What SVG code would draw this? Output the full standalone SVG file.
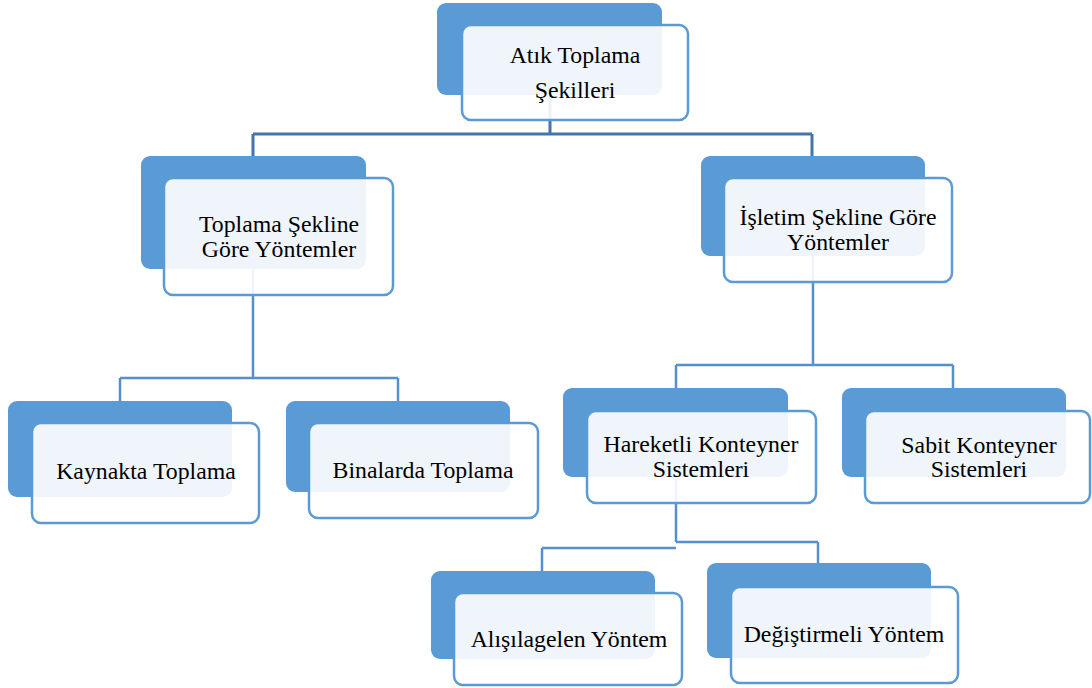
<svg xmlns="http://www.w3.org/2000/svg" width="1092" height="688" viewBox="0 0 1092 688">
<style>
.back{fill:#5B9BD5;}
.front{fill:#FFFFFF;fill-opacity:0.9;stroke:#5B9BD5;stroke-width:2.5;}
.c1{fill:none;stroke:#4674AA;stroke-width:3;}
.c2{fill:none;stroke:#5590CC;stroke-width:2.5;}
.t{font-family:'Liberation Serif','DejaVu Serif',serif;font-size:23.8px;fill:#000000;text-anchor:middle;}
</style>
<rect width="1092" height="688" fill="#FFFFFF"/>
<g id="connectors">
<path class="c1" d="M550,95 V134 M253,134 H812 M253,134 V156 M812,134 V156"/>
<path class="c2" d="M253,269 V378 M120,378 H398 M120,378 V401 M398,378 V401"/>
<path class="c2" d="M813,256 V365 M676,365 H953 M676,365 V388 M953,365 V388"/>
<path class="c2" d="M676,477 V542 M676,542 H818 M818,542 V563 M676,548 H542 M542,548 V571"/>
</g>
<g id="node-root">
<rect class="back" x="437" y="3" width="225" height="92" rx="9"/>
<rect class="front" x="462" y="25" width="226" height="95" rx="9"/>
<text class="t" font-family="Liberation Serif, serif" x="575" y="63">Atık Toplama</text>
<text class="t" font-family="Liberation Serif, serif" x="575" y="98">Şekilleri</text>
</g>
<g id="node-toplama">
<rect class="back" x="141" y="156" width="225" height="113" rx="9"/>
<rect class="front" x="164" y="178" width="229" height="117" rx="9"/>
<text class="t" font-family="Liberation Serif, serif" x="279" y="232">Toplama Şekline</text>
<text class="t" font-family="Liberation Serif, serif" x="279" y="257">Göre Yöntemler</text>
</g>
<g id="node-isletim">
<rect class="back" x="701" y="156" width="224" height="100" rx="9"/>
<rect class="front" x="724" y="178" width="228" height="104" rx="9"/>
<text class="t" font-family="Liberation Serif, serif" x="838" y="225">İşletim Şekline Göre</text>
<text class="t" font-family="Liberation Serif, serif" x="838" y="250">Yöntemler</text>
</g>
<g id="node-kaynakta">
<rect class="back" x="8" y="401" width="224" height="96" rx="9"/>
<rect class="front" x="32" y="423" width="227" height="100" rx="9"/>
<text class="t" font-family="Liberation Serif, serif" x="146" y="479">Kaynakta Toplama</text>
</g>
<g id="node-binalarda">
<rect class="back" x="286" y="401" width="224" height="91" rx="9"/>
<rect class="front" x="309" y="423" width="229" height="95" rx="9"/>
<text class="t" font-family="Liberation Serif, serif" x="423" y="478">Binalarda Toplama</text>
</g>
<g id="node-hareketli">
<rect class="back" x="563" y="388" width="225" height="89" rx="9"/>
<rect class="front" x="587" y="411" width="229" height="92" rx="9"/>
<text class="t" font-family="Liberation Serif, serif" x="701" y="452">Hareketli Konteyner</text>
<text class="t" font-family="Liberation Serif, serif" x="701" y="477">Sistemleri</text>
</g>
<g id="node-sabit">
<rect class="back" x="842" y="388" width="224" height="89" rx="9"/>
<rect class="front" x="865" y="411" width="225" height="92" rx="9"/>
<text class="t" font-family="Liberation Serif, serif" x="979" y="453">Sabit Konteyner</text>
<text class="t" font-family="Liberation Serif, serif" x="979" y="477">Sistemleri</text>
</g>
<g id="node-alisilagelen">
<rect class="back" x="431" y="571" width="224" height="88" rx="9"/>
<rect class="front" x="454" y="593" width="228" height="92" rx="9"/>
<text class="t" font-family="Liberation Serif, serif" x="569" y="647">Alışılagelen Yöntem</text>
</g>
<g id="node-degistirmeli">
<rect class="back" x="707" y="563" width="224" height="95" rx="9"/>
<rect class="front" x="731" y="587" width="227" height="96" rx="9"/>
<text class="t" font-family="Liberation Serif, serif" x="844" y="642">Değiştirmeli Yöntem</text>
</g>
</svg>
